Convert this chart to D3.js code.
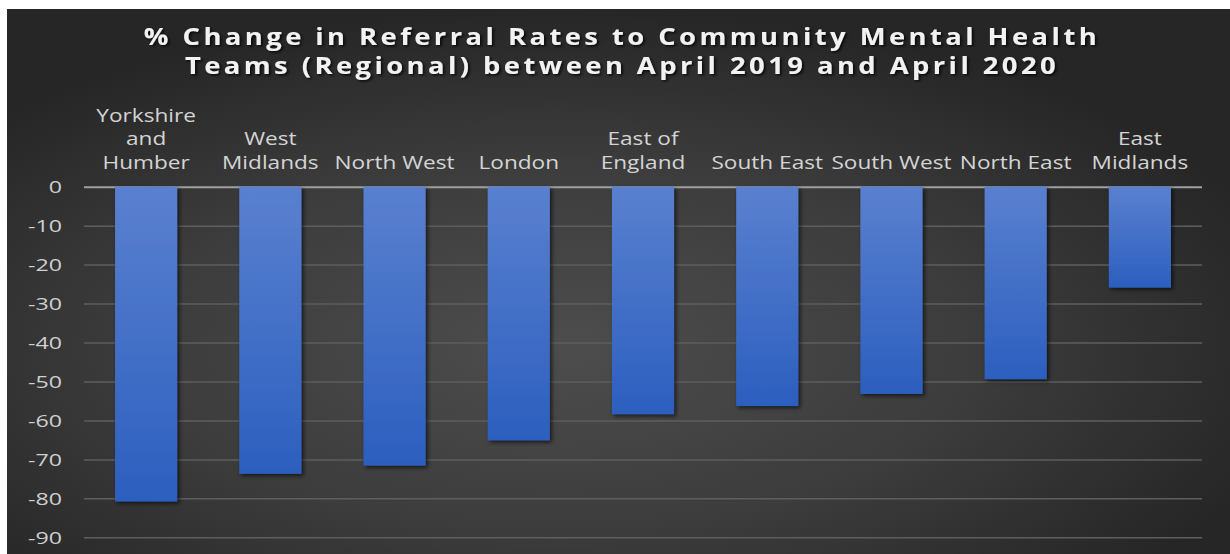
<!DOCTYPE html>
<html>
<head>
<meta charset="utf-8">
<script src="https://cdn.jsdelivr.net/npm/d3@7"></script>
<style>
  html, body { margin: 0; padding: 0; background: #ffffff; }
  svg { display: block; }
  text { font-family: "Open Sans", "DejaVu Sans", sans-serif; }
</style>
</head>
<body>
<svg id="chart" width="1230" height="554"></svg>
<script>
// Regions, in the order the bars are drawn
const regions = [
  ["Yorkshire", "and", "Humber"],
  ["West", "Midlands"],
  ["North West"],
  ["London"],
  ["East of", "England"],
  ["South East"],
  ["South West"],
  ["North East"],
  ["East", "Midlands"]
];
const regionNames = regions.map(r => r.join(" "));
// % change in referral rates, April 2019 -> April 2020
const pctChange = [-80.8, -73.7, -71.6, -65.1, -58.4, -56.3, -53.2, -49.4, -25.9];
const yTicks = [0, -10, -20, -30, -40, -50, -60, -70, -80, -90];
const titleLines = [
  "% Change in Referral Rates to Community Mental Health",
  "Teams (Regional) between April 2019 and April 2020"
];

const svg = d3.select("#chart");
const W = 1230, H = 554;
const frame = { left: 7, top: 9, right: W, bottom: H };
const plot = { left: 84, right: 1202, top: 186.7, bottom: 537.3 };

const defs = svg.append("defs");

// dark chart-area background, lighter towards the middle
const bg = defs.append("radialGradient").attr("id", "bgGrad")
  .attr("cx", "45%").attr("cy", "62%").attr("r", "62%");
bg.append("stop").attr("offset", "0%").attr("stop-color", "#4d4d4d");
bg.append("stop").attr("offset", "55%").attr("stop-color", "#3c3c3c");
bg.append("stop").attr("offset", "100%").attr("stop-color", "#262626");

// bar fill: lighter blue at the top
const barGrad = defs.append("linearGradient").attr("id", "barGrad")
  .attr("x1", 0).attr("y1", 0).attr("x2", 0).attr("y2", 1);
barGrad.append("stop").attr("offset", "0%").attr("stop-color", "#5a80cf");
barGrad.append("stop").attr("offset", "100%").attr("stop-color", "#2c5fbf");

const barShadow = defs.append("filter").attr("id", "barShadow")
  .attr("x", "-30%").attr("y", "-10%").attr("width", "160%").attr("height", "120%");
barShadow.append("feDropShadow").attr("dx", 2).attr("dy", 2)
  .attr("stdDeviation", 2).attr("flood-color", "#000").attr("flood-opacity", 0.65);

const textShadow = defs.append("filter").attr("id", "textShadow")
  .attr("x", "-5%").attr("y", "-30%").attr("width", "110%").attr("height", "160%");
textShadow.append("feDropShadow").attr("dx", 1.5).attr("dy", 1.5)
  .attr("stdDeviation", 1.2).attr("flood-color", "#000").attr("flood-opacity", 0.8);

svg.append("rect")
  .attr("x", frame.left).attr("y", frame.top)
  .attr("width", frame.right - frame.left).attr("height", frame.bottom - frame.top)
  .attr("fill", "url(#bgGrad)");

// scales
const x = d3.scaleBand()
  .domain(regionNames)
  .range([plot.left, plot.right])
  .paddingInner(0.5)
  .paddingOuter(0.25);

const y = d3.scaleLinear()
  .domain([-90, 0])
  .range([plot.bottom, plot.top]);

// horizontal gridlines
const grid = svg.append("g")
  .attr("transform", `translate(${plot.left},0)`)
  .call(d3.axisLeft(y).tickValues(yTicks).tickSize(-(plot.right - plot.left)).tickFormat(""));
grid.select(".domain").remove();
grid.selectAll(".tick line")
  .attr("stroke", d => d === 0 ? "#a0a0a0" : "#5e5e5e")
  .attr("stroke-width", d => d === 0 ? 2 : 1.5);

// y tick labels (plain hyphen for negatives)
const yAxis = svg.append("g")
  .attr("transform", `translate(${plot.left},0)`)
  .call(d3.axisLeft(y).tickValues(yTicks).tickSize(0).tickPadding(0).tickFormat(d => String(d)));
yAxis.select(".domain").remove();
yAxis.selectAll(".tick text")
  .attr("x", 0)
  .attr("dy", "0.36em")
  .attr("transform", "translate(-22,0) scale(1.45,1)")
  .attr("text-anchor", "end")
  .attr("fill", "#d0d0d0")
  .style("font-size", "16px");

// bars (hang down from zero)
svg.append("g").selectAll("rect")
  .data(pctChange)
  .join("rect")
  .attr("x", (d, i) => x(regionNames[i]))
  .attr("width", x.bandwidth())
  .attr("y", d => y(Math.max(0, d)))
  .attr("height", d => Math.abs(y(d) - y(0)))
  .attr("fill", "url(#barGrad)")
  .attr("filter", "url(#barShadow)");

// category labels above the zero line, bottom line aligned
const lineH = 23.5;
const labelBase = 169;
const labels = svg.append("g").selectAll("g")
  .data(regions)
  .join("g")
  .attr("transform", (d, i) => `translate(${x(regionNames[i]) + x.bandwidth() / 2},0) scale(1.19,1)`);
labels.each(function(lines) {
  const g = d3.select(this);
  lines.forEach((line, k) => {
    g.append("text")
      .attr("x", 0)
      .attr("y", labelBase - (lines.length - 1 - k) * lineH)
      .attr("text-anchor", "middle")
      .attr("fill", "#d4d4d4")
      .style("font-size", "19px")
      .text(line);
  });
});

// title
const titleG = svg.append("g")
  .attr("transform", `translate(622,0) scale(1.19,1)`)
  .attr("filter", "url(#textShadow)");
titleLines.forEach((t, k) => {
  titleG.append("text")
    .attr("x", 0)
    .attr("y", 45 + k * 29)
    .attr("text-anchor", "middle")
    .attr("fill", "#f2f2f2")
    .style("font-size", "23px")
    .style("font-weight", "700")
    .style("letter-spacing", "2.9px")
    .text(t);
});
</script>
</body>
</html>
